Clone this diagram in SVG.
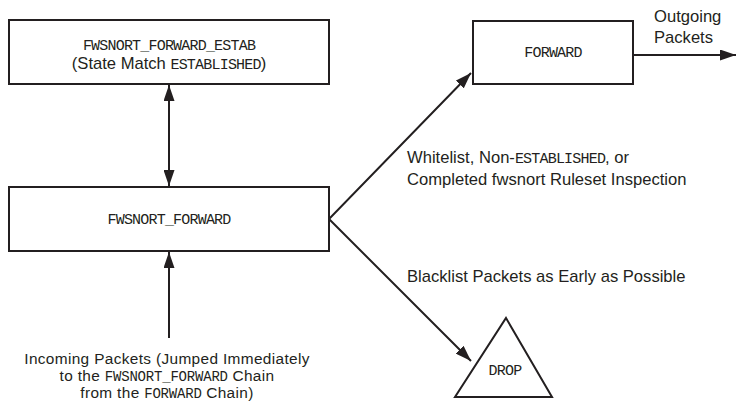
<svg xmlns="http://www.w3.org/2000/svg" width="737" height="410" viewBox="0 0 737 410">
<style>
.box{fill:#fff;stroke:#231f20;stroke-width:2}
.ln{fill:none;stroke:#231f20;stroke-width:2}
.t{font-family:"Liberation Sans",Arial,sans-serif;font-size:16.6px;fill:#231f20}
.m{font-family:"Liberation Mono","DejaVu Sans Mono",monospace;font-size:15px;letter-spacing:-0.8px;fill:#231f20}
.b{font-size:15.4px;letter-spacing:0.35px}
.b .m{font-size:14px;letter-spacing:-0.2px}
.c{text-anchor:middle}
</style>
<defs>
<marker id="ah" markerUnits="userSpaceOnUse" markerWidth="17" markerHeight="11" refX="16" refY="5.5" orient="auto-start-reverse">
<path d="M0,0 L16,5.5 L0,11 z" fill="#231f20"/>
</marker>
</defs>
<g id="connectors">
<line class="ln" x1="169" y1="85" x2="169" y2="186" marker-start="url(#ah)" marker-end="url(#ah)"/>
<line class="ln" x1="169" y1="338" x2="169" y2="252" marker-end="url(#ah)"/>
<polyline class="ln" points="471,73 329,219 471,361" marker-start="url(#ah)" marker-end="url(#ah)"/>
<line class="ln" x1="633" y1="55" x2="736" y2="55" marker-end="url(#ah)"/>
</g>
<g id="estab">
<rect class="box" x="9" y="20" width="320" height="64"/>
<text class="m c" x="169" y="50">FWSNORT_FORWARD_ESTAB</text>
<text class="t c" x="169" y="69">(State Match <tspan class="m">ESTABLISHED</tspan>)</text>
</g>
<g id="fwsnort_forward">
<rect class="box" x="9" y="187" width="320" height="64"/>
<text class="m c" x="169" y="224">FWSNORT_FORWARD</text>
</g>
<g id="forward">
<rect class="box" x="473" y="21" width="160" height="63"/>
<text class="m c" x="553" y="57">FORWARD</text>
</g>
<g id="drop">
<polygon class="box" points="506,318 552,397 455,397"/>
<text class="m c" x="505" y="375">DROP</text>
</g>
<g id="labels">
<text class="t" x="654" y="22">Outgoing</text>
<text class="t" x="654" y="43">Packets</text>
<text class="t" x="407" y="163">Whitelist, Non-<tspan class="m">ESTABLISHED</tspan>, or</text>
<text class="t" x="407" y="185">Completed fwsnort Ruleset Inspection</text>
<text class="t" x="407" y="282">Blacklist Packets as Early as Possible</text>
<text class="t c b" x="167" y="364">Incoming Packets (Jumped Immediately</text>
<text class="t c b" x="167" y="381">to the <tspan class="m">FWSNORT_FORWARD</tspan> Chain</text>
<text class="t c b" x="167" y="398">from the <tspan class="m">FORWARD</tspan> Chain)</text>
</g>
</svg>
